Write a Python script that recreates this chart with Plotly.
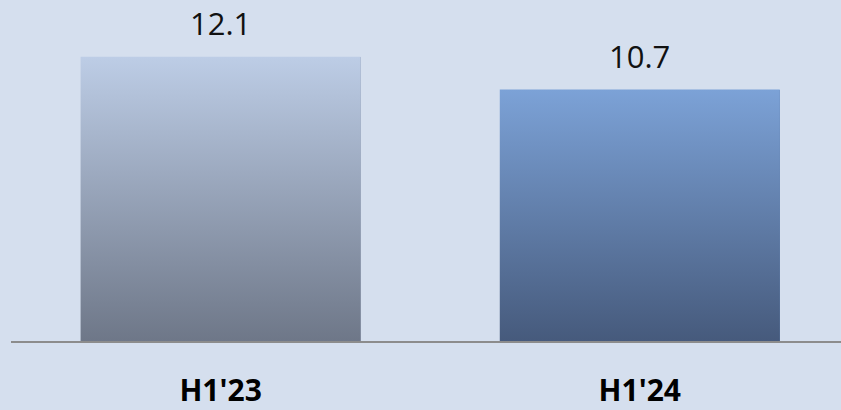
import plotly.graph_objects as go

categories = ["H1'23", "H1'24"]
values = [12.1, 10.7]
value_labels = ["12.1", "10.7"]

top_colors = ["#bdcde6", "#7ca2d7"]
bottom_colors = ["#6e7788", "#465a7c"]
mid_colors = ["#a0acc2", "#6483b0"]

bar_width = 0.668
xpos = list(range(len(categories)))

fig = go.Figure()

# base bars (data carrier)
fig.add_trace(go.Bar(
    x=xpos, y=values, width=bar_width,
    marker=dict(color=mid_colors, line=dict(width=0)),
    hoverinfo="skip", showlegend=False,
))

# gradient overlay drawn from same data
for i, v in enumerate(values):
    half = bar_width / 2
    fig.add_trace(go.Scatter(
        x=[xpos[i] - half, xpos[i] + half, xpos[i] + half, xpos[i] - half, xpos[i] - half],
        y=[0, 0, v, v, 0],
        mode="lines", fill="toself", line=dict(width=0),
        fillgradient=dict(type="vertical",
                          colorscale=[[0, bottom_colors[i]], [1, top_colors[i]]]),
        hoverinfo="skip", showlegend=False,
    ))
    fig.add_annotation(
        x=xpos[i], y=v, text=value_labels[i], showarrow=False,
        yanchor="bottom", yshift=11,
        font=dict(family="Open Sans", size=31, color="#111111"),
    )

fig.update_layout(
    width=841, height=410,
    margin=dict(l=11, r=0, t=0, b=67),
    paper_bgcolor="#d5dfee", plot_bgcolor="#d5dfee",
    xaxis=dict(
        range=[-0.5, 1.48], tickvals=xpos, ticktext=categories,
        showgrid=False, zeroline=False, showline=True,
        linecolor="#8c8c8c", linewidth=1.5,
        ticks="", ticklabelstandoff=22,
        tickfont=dict(family="Open Sans", size=30, color="#000000", weight="bold"),
    ),
    yaxis=dict(range=[0, 14.51], visible=False, showgrid=False, zeroline=False),
    bargap=0,
)

fig.write_html(
    "out.html",
    config={"displayModeBar": False},
    post_script="document.body.style.margin='0';document.body.style.overflow='hidden';",
)
